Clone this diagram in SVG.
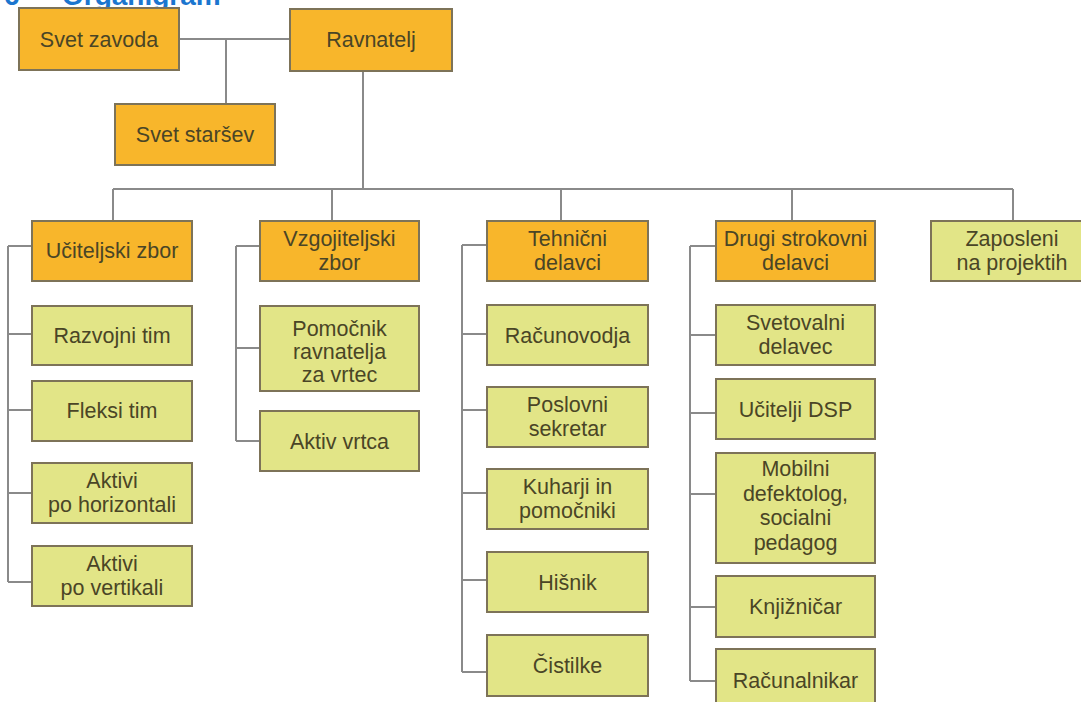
<svg xmlns="http://www.w3.org/2000/svg" width="1081" height="702" viewBox="0 0 1081 702">
<style>
.bg{fill:#ffffff}
.o{fill:#F8B62B;stroke:#7d7358;stroke-width:2}
.g{fill:#E2E587;stroke:#7d7358;stroke-width:2}
.t{font-family:"Liberation Sans",Arial,sans-serif;font-size:21.5px;fill:#4a4526;text-anchor:middle}
.ttl{font-family:"Liberation Sans",Arial,sans-serif;font-size:28px;font-weight:bold;fill:#1B76CF}
.c{stroke:#8a8a8a;stroke-width:2;fill:none}
</style>
<rect class="bg" x="0" y="0" width="1081" height="702"/>
<text class="ttl" x="4" y="5">6</text>
<text class="ttl" x="62" y="5">Organigram</text>
<g id="connectors">
<path class="c" d="M179 39H290M226 39V104M363 71V189M113 189H1013M113 189V221M332 189V221M561 189V221M792 189V221M1013 189V221"/>
<path class="c" d="M8 246V582M8 246H32M8 334H32M8 410H32M8 493H32M8 582H32"/>
<path class="c" d="M236 246V441M236 246H260M236 348H260M236 441H260"/>
<path class="c" d="M462 245V672M462 245H487M462 334H487M462 410H487M462 493H487M462 580H487M462 672H487"/>
<path class="c" d="M690 246V681M690 246H716M690 335H716M690 413H716M690 494H716M690 607H716M690 681H716"/>
</g>
<g id="svet-zavoda"><rect class="o" x="19" y="8" width="160" height="62"/><text class="t" x="99" y="47">Svet zavoda</text></g>
<g id="ravnatelj"><rect class="o" x="290" y="9" width="162" height="62"/><text class="t" x="371" y="47">Ravnatelj</text></g>
<g id="svet-starsev"><rect class="o" x="115" y="104" width="160" height="61"/><text class="t" x="195" y="142">Svet staršev</text></g>
<g id="uciteljski-zbor"><rect class="o" x="32" y="221" width="160" height="60"/><text class="t" x="112" y="258">Učiteljski zbor</text></g>
<g id="vzgojiteljski-zbor"><rect class="o" x="260" y="221" width="159" height="60"/><text class="t" x="339.5" y="246">Vzgojiteljski</text><text class="t" x="339.5" y="270">zbor</text></g>
<g id="tehnicni-delavci"><rect class="o" x="487" y="221" width="161" height="60"/><text class="t" x="567.5" y="246">Tehnični</text><text class="t" x="567.5" y="270">delavci</text></g>
<g id="drugi-strokovni"><rect class="o" x="716" y="221" width="159" height="60"/><text class="t" x="795.5" y="246">Drugi strokovni</text><text class="t" x="795.5" y="270">delavci</text></g>
<g id="zaposleni"><rect class="g" x="931" y="221" width="164" height="60"/><text class="t" x="1012" y="246">Zaposleni</text><text class="t" x="1012" y="270">na projektih</text></g>
<g id="razvojni-tim"><rect class="g" x="32" y="306" width="160" height="59"/><text class="t" x="112" y="343">Razvojni tim</text></g>
<g id="fleksi-tim"><rect class="g" x="32" y="381" width="160" height="60"/><text class="t" x="112" y="418">Fleksi tim</text></g>
<g id="aktivi-horizontali"><rect class="g" x="32" y="463" width="160" height="60"/><text class="t" x="112" y="488">Aktivi</text><text class="t" x="112" y="512">po horizontali</text></g>
<g id="aktivi-vertikali"><rect class="g" x="32" y="546" width="160" height="60"/><text class="t" x="112" y="571">Aktivi</text><text class="t" x="112" y="595">po vertikali</text></g>
<g id="pomocnik"><rect class="g" x="260" y="306" width="159" height="85"/><text class="t" x="339.5" y="336">Pomočnik</text><text class="t" x="339.5" y="359">ravnatelja</text><text class="t" x="339.5" y="382">za vrtec</text></g>
<g id="aktiv-vrtca"><rect class="g" x="260" y="411" width="159" height="60"/><text class="t" x="339.5" y="449">Aktiv vrtca</text></g>
<g id="racunovodja"><rect class="g" x="487" y="305" width="161" height="60"/><text class="t" x="567.5" y="343">Računovodja</text></g>
<g id="poslovni-sekretar"><rect class="g" x="487" y="387" width="161" height="60"/><text class="t" x="567.5" y="412">Poslovni</text><text class="t" x="567.5" y="436">sekretar</text></g>
<g id="kuharji"><rect class="g" x="487" y="469" width="161" height="60"/><text class="t" x="567.5" y="494">Kuharji in</text><text class="t" x="567.5" y="518">pomočniki</text></g>
<g id="hisnik"><rect class="g" x="487" y="552" width="161" height="60"/><text class="t" x="567.5" y="590">Hišnik</text></g>
<g id="cistilke"><rect class="g" x="487" y="635" width="161" height="61"/><text class="t" x="567.5" y="673">Čistilke</text></g>
<g id="svetovalni-delavec"><rect class="g" x="716" y="305" width="159" height="60"/><text class="t" x="795.5" y="330">Svetovalni</text><text class="t" x="795.5" y="354">delavec</text></g>
<g id="ucitelji-dsp"><rect class="g" x="716" y="379" width="159" height="60"/><text class="t" x="795.5" y="417">Učitelji DSP</text></g>
<g id="mobilni"><rect class="g" x="716" y="453" width="159" height="110"/><text class="t" x="795.5" y="476">Mobilni</text><text class="t" x="795.5" y="501">defektolog,</text><text class="t" x="795.5" y="525">socialni</text><text class="t" x="795.5" y="550">pedagog</text></g>
<g id="knjiznicar"><rect class="g" x="716" y="576" width="159" height="61"/><text class="t" x="795.5" y="614">Knjižničar</text></g>
<g id="racunalnikar"><rect class="g" x="716" y="649" width="159" height="62"/><text class="t" x="795.5" y="688">Računalnikar</text></g>
</svg>
